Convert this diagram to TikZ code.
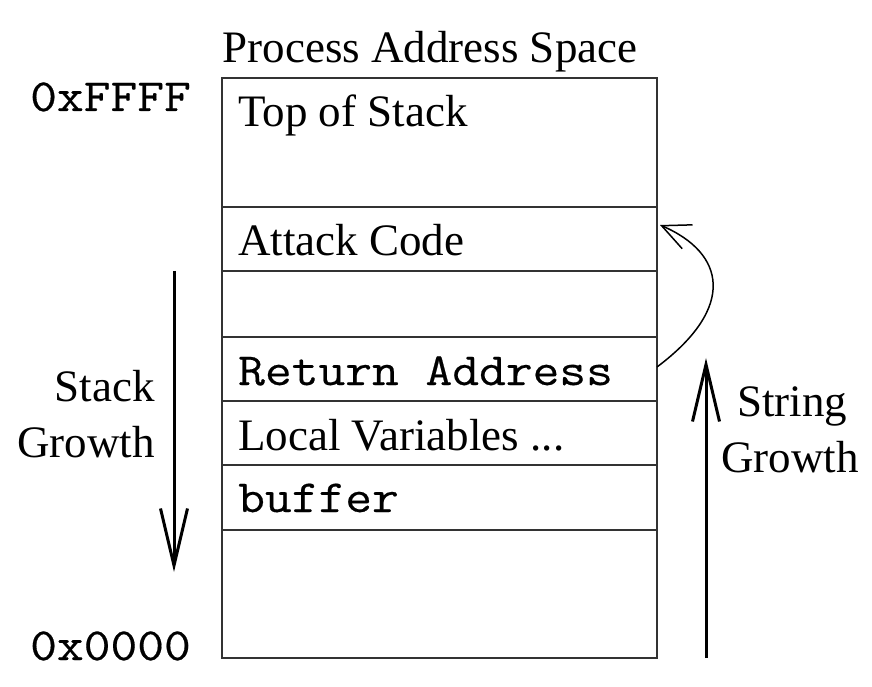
\documentclass[tikz,border=0pt]{standalone}
\usepackage{fontspec}
\setmainfont{Liberation Serif}
\setmonofont[FakeStretch=1.13, FakeBold=0.4]{Latin Modern Mono}
\usetikzlibrary{arrows.meta}
\definecolor{boxgray}{HTML}{333333}
\def\boxleft{222}
\def\boxright{657}
\tikzset{
  lbl/.style={inner sep=0pt, font=\fontsize{45}{54}\selectfont},
  mono/.style={inner sep=0pt, font=\fontsize{46}{55}\selectfont\ttfamily},
  growarrow/.style={line width=3pt, -{Straight Barb[length=57pt, width=27pt]}},
}

\begin{document}
\begin{tikzpicture}[x=1pt, y=1pt]
    \useasboundingbox (0,0) rectangle (872,686);
    % memory cells
    \foreach \y in {479, 415, 349, 285, 221, 156} {
      \draw[boxgray, line width=1.5pt] (\boxleft, \y) -- (\boxright, \y);
    }
    \draw[boxgray, line width=1.5pt] (\boxleft, 28) rectangle (\boxright, 608);
    \node[lbl, anchor=base] (title) at (430, 623) {Process Address Space};
    \node[lbl, anchor=base west] (tos) at (238, 559) {Top of Stack};
    \node[lbl, anchor=base west] (attack) at (238, 430) {Attack Code};
    \node[mono, anchor=base west] (ret) at (238, 301) {Return Address};
    \node[lbl, anchor=base west] (local) at (238, 236) {Local Variables ...};
    \node[mono, anchor=base west] (buf) at (238, 174) {buffer};
    \node[mono, anchor=base west] (hi) at (30, 575) {0xFFFF};
    \node[mono, anchor=base west] (lo) at (30, 26) {0x0000};
    % growth directions
    \node[lbl, anchor=base east] (stack) at (155, 284) {Stack};
    \node[lbl, anchor=base east] (stackg) at (155, 229) {Growth};
    \node[lbl, anchor=base] (string) at (792, 270) {String};
    \node[lbl, anchor=base] (stringg) at (790, 214) {Growth};
    \coordinate (sgtop) at (174, 415);
    \coordinate (sgbot) at (174, 114);
    \coordinate (strbot) at (706, 28);
    \coordinate (strtop) at (706, 328);
    \draw[growarrow] (sgtop) -- (sgbot);
    \draw[growarrow] (strbot) -- (strtop);
    % overwritten return address jumps to the attack code
    \coordinate (retR) at (\boxright, 319);
    \coordinate (attackR) at (660, 461);
    \draw[line width=1.5pt, -{Straight Barb[length=28pt, width=26pt]}]
      (retR) .. controls (737, 379) and (725, 433) .. (attackR);
  \end{tikzpicture}
\end{document}
